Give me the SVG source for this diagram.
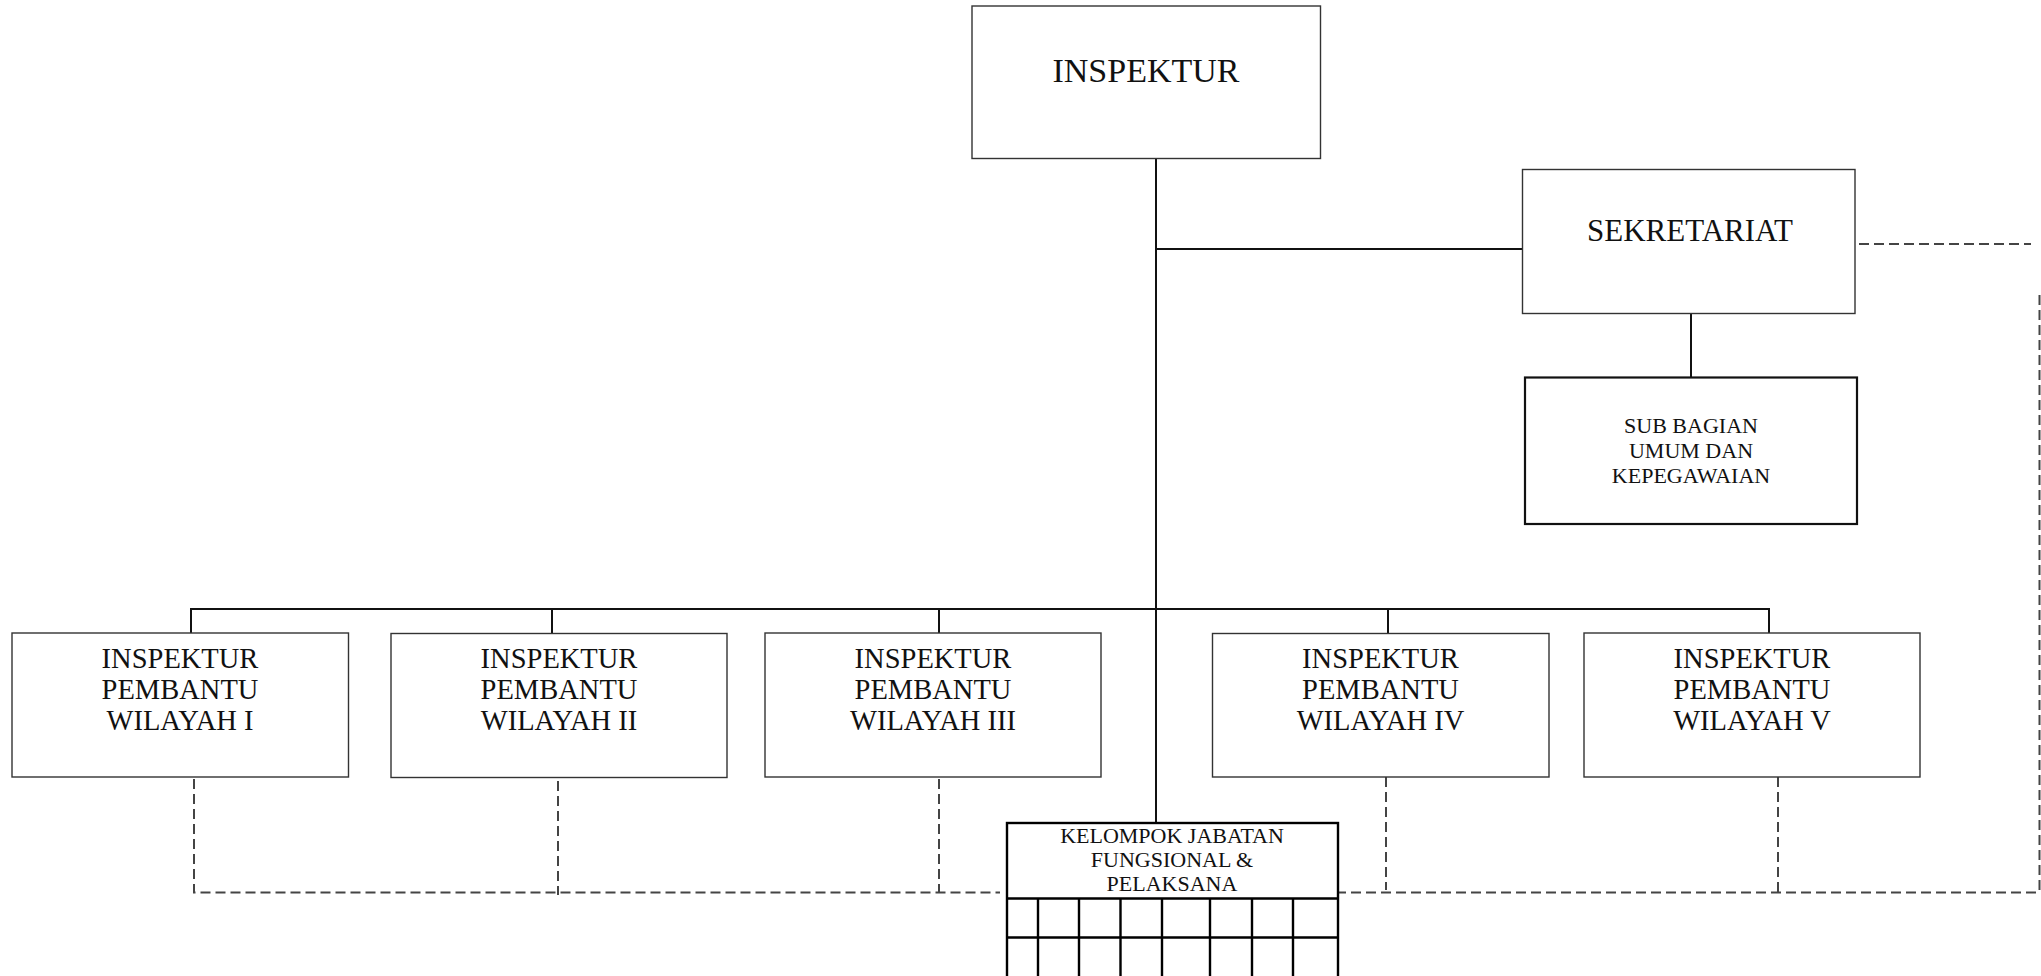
<svg xmlns="http://www.w3.org/2000/svg" width="2041" height="976" viewBox="0 0 2041 976">
<style>
.bg{fill:#ffffff}
.box{fill:#ffffff;stroke:#333333;stroke-width:1.4}
.boxb{fill:#ffffff;stroke:#111111;stroke-width:2.2}
.grid{fill:none;stroke:#000000;stroke-width:2.4}
.ln{fill:none;stroke:#111111;stroke-width:2}
.dash{fill:none;stroke:#444444;stroke-width:2;stroke-dasharray:10 5}
text{font-family:"Liberation Serif","DejaVu Serif",serif;fill:#111111;text-anchor:middle}
.t1{font-size:34px}
.t2{font-size:31px}
.t3{font-size:28.5px}
.t4{font-size:22px}
</style>
<rect class="bg" x="0" y="0" width="2041" height="976"/>
<g id="connectors">
<path class="ln" d="M1156 159 V823"/>
<path class="ln" d="M1156 249 H1523"/>
<path class="ln" d="M1691 314 V377.5"/>
<path class="ln" d="M191 609 H1769"/>
<path class="ln" d="M191 608 V633"/>
<path class="ln" d="M552 608 V633.5"/>
<path class="ln" d="M939 608 V633"/>
<path class="ln" d="M1388 608 V633.5"/>
<path class="ln" d="M1769 608 V633"/>
<path class="dash" d="M194 779 V892.5 H1000"/>
<path class="dash" d="M558 781 V895"/>
<path class="dash" d="M939 779 V892.5"/>
<path class="dash" d="M1386 777 V890"/>
<path class="dash" d="M1778 777 V895"/>
<path class="dash" d="M1336 892.5 H2037"/>
<path class="dash" d="M2039.5 295 V891"/>
<path class="dash" d="M1859 244 H2031"/>
</g>
<g id="inspektur">
<rect class="box" x="972" y="6" width="348.5" height="152.5"/>
<text class="t1" x="1146" y="82">INSPEKTUR</text>
</g>
<g id="sekretariat">
<rect class="box" x="1522.5" y="169.5" width="332.5" height="144"/>
<text class="t2" x="1690" y="241">SEKRETARIAT</text>
</g>
<g id="subbagian">
<rect class="boxb" x="1525" y="377.5" width="332" height="146.5"/>
<text class="t4" x="1691" y="433">SUB BAGIAN</text>
<text class="t4" x="1691" y="458">UMUM DAN</text>
<text class="t4" x="1691" y="483">KEPEGAWAIAN</text>
</g>
<g id="wilayah1">
<rect class="box" x="12" y="633" width="336.5" height="144"/>
<text class="t3" x="180" y="668">INSPEKTUR</text>
<text class="t3" x="180" y="699">PEMBANTU</text>
<text class="t3" x="180" y="730">WILAYAH I</text>
</g>
<g id="wilayah2">
<rect class="box" x="391" y="633.5" width="336" height="144"/>
<text class="t3" x="559" y="668">INSPEKTUR</text>
<text class="t3" x="559" y="699">PEMBANTU</text>
<text class="t3" x="559" y="730">WILAYAH II</text>
</g>
<g id="wilayah3">
<rect class="box" x="765" y="633" width="336" height="144"/>
<text class="t3" x="933" y="668">INSPEKTUR</text>
<text class="t3" x="933" y="699">PEMBANTU</text>
<text class="t3" x="933" y="730">WILAYAH III</text>
</g>
<g id="wilayah4">
<rect class="box" x="1212.5" y="633.5" width="336.5" height="143.5"/>
<text class="t3" x="1380.5" y="668">INSPEKTUR</text>
<text class="t3" x="1380.5" y="699">PEMBANTU</text>
<text class="t3" x="1380.5" y="730">WILAYAH IV</text>
</g>
<g id="wilayah5">
<rect class="box" x="1584" y="633" width="336" height="144"/>
<text class="t3" x="1752" y="668">INSPEKTUR</text>
<text class="t3" x="1752" y="699">PEMBANTU</text>
<text class="t3" x="1752" y="730">WILAYAH V</text>
</g>
<g id="kelompok">
<rect class="grid" x="1007" y="823" width="331" height="170" style="fill:#ffffff"/>
<path class="grid" d="M1007 898.5 H1338 M1007 937.5 H1338 M1038 898.5 V990 M1079 898.5 V990 M1120.5 898.5 V990 M1162 898.5 V990 M1210 898.5 V990 M1252 898.5 V990 M1293 898.5 V990"/>
<text class="t4" x="1172" y="843">KELOMPOK JABATAN</text>
<text class="t4" x="1172" y="867">FUNGSIONAL &amp;</text>
<text class="t4" x="1172" y="891">PELAKSANA</text>
</g>
</svg>
